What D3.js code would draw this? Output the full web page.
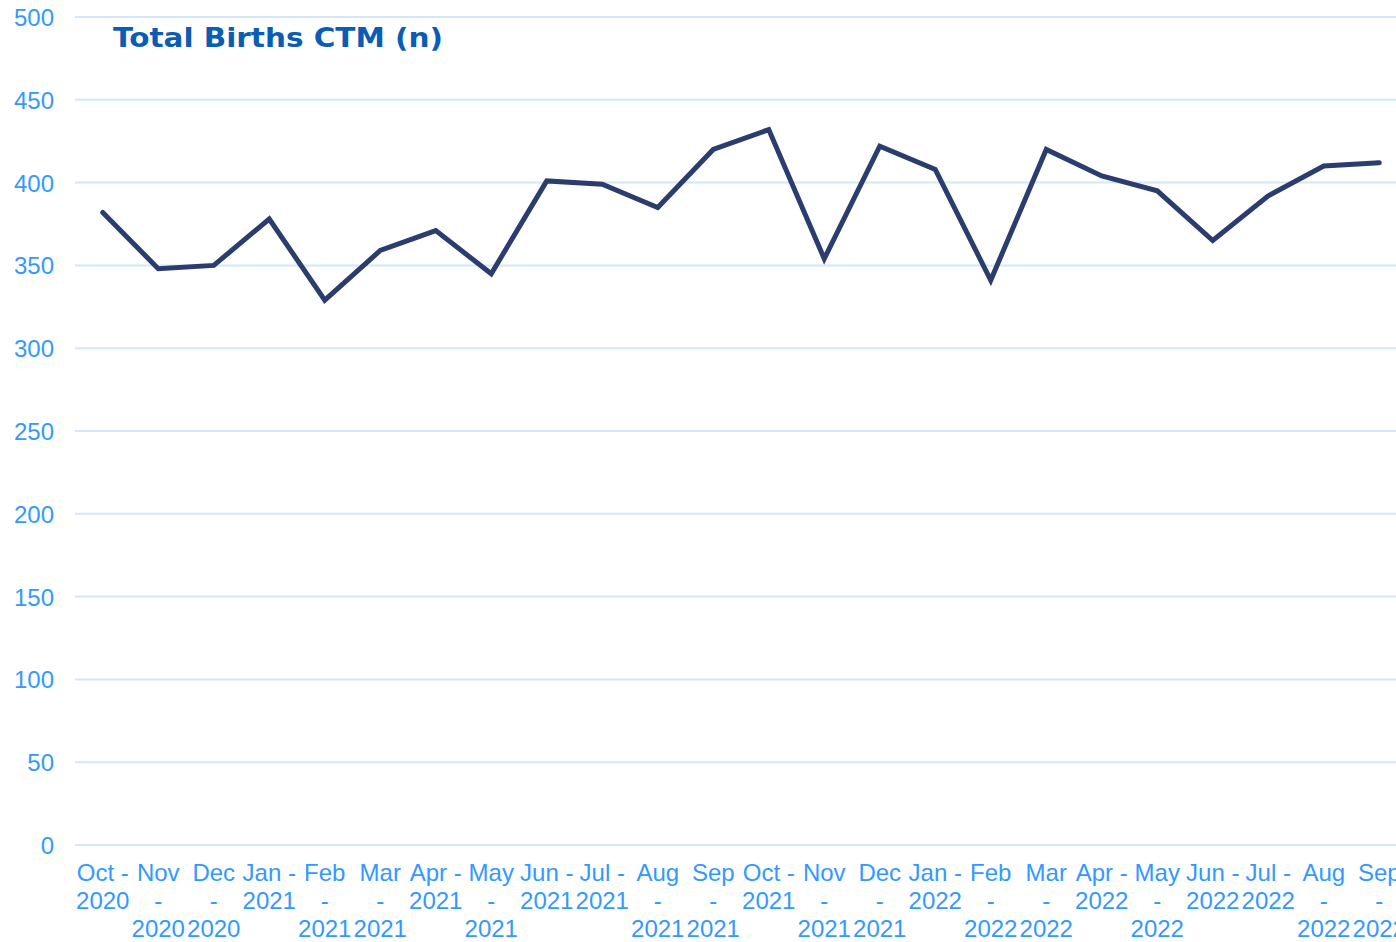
<!DOCTYPE html>
<html>
<head>
<meta charset="utf-8">
<script src="https://cdn.jsdelivr.net/npm/d3@7"></script>
<style>
  html, body { margin: 0; padding: 0; background: #fff; overflow: hidden; }
  svg { display: block; }
</style>
</head>
<body>
<svg id="chart" width="1396" height="942"></svg>
<script>
const categories = ["Oct - 2020","Nov - 2020","Dec - 2020","Jan - 2021","Feb - 2021","Mar - 2021","Apr - 2021","May - 2021","Jun - 2021","Jul - 2021","Aug - 2021","Sep - 2021","Oct - 2021","Nov - 2021","Dec - 2021","Jan - 2022","Feb - 2022","Mar - 2022","Apr - 2022","May - 2022","Jun - 2022","Jul - 2022","Aug - 2022","Sep - 2022"];
const births = [382,348,350,378,329,359,371,345,401,399,385,420,432,354,422,408,341,420,404,395,365,392,410,412];
const yTicks = [0,50,100,150,200,250,300,350,400,450,500];
const title = "Total Births CTM (n)";

(function() {
const svg = d3.select("#chart");
const plotLeft = 75, plotRight = 1407, plotTop = 17, plotBottom = 845;

const x = d3.scaleBand().domain(categories).range([plotLeft, plotRight]).padding(0);
const y = d3.scaleLinear().domain([0, 500]).range([plotBottom, plotTop]);

// gridlines
svg.append("g").selectAll("line").data(yTicks).join("line")
  .attr("x1", plotLeft).attr("x2", 1396)
  .attr("y1", d => y(d)).attr("y2", d => y(d))
  .attr("stroke", "#d3e7fb").attr("stroke-width", 2);

// y axis labels
const yAxis = d3.axisLeft(y).tickValues(yTicks).tickSize(0).tickPadding(0);
const yg = svg.append("g").attr("transform", `translate(54,0)`).call(yAxis);
yg.select(".domain").remove();
yg.selectAll("text")
  .attr("font-family", "'Liberation Sans', Arial, sans-serif")
  .attr("font-size", 24).attr("fill", "#3399ff").attr("dy", "0.35em").attr("x", 0);

// x axis labels
const xAxis = d3.axisBottom(x).tickSize(0).tickPadding(0);
const xg = svg.append("g").attr("transform", `translate(0,${plotBottom})`).call(xAxis);
xg.select(".domain").remove();
xg.selectAll("text")
  .attr("font-family", "'Liberation Sans', Arial, sans-serif")
  .attr("font-size", 24).attr("fill", "#3399ff")
  .attr("y", 0).attr("dy", null)
  .each(function(d) {
    const t = d3.select(this);
    const words = d.split(" ");
    t.text(null);
    const maxW = 54.6;
    let lines = [];
    let cur = [];
    const tmp = t.append("tspan");
    for (const w of words) {
      const test = cur.concat([w]).join(" ");
      tmp.text(test);
      if (cur.length && tmp.node().getComputedTextLength() > maxW) {
        lines.push(cur.join(" "));
        cur = [w];
      } else {
        cur.push(w);
      }
    }
    if (cur.length) lines.push(cur.join(" "));
    tmp.remove();
    lines.forEach((ln, i) => {
      t.append("tspan").attr("x", 0).attr("y", 36 + i * 28).text(ln);
    });
  });

// line
const line = d3.line()
  .x((d, i) => x(categories[i]) + x.bandwidth() / 2)
  .y(d => y(d));
svg.append("path").datum(births)
  .attr("d", line)
  .attr("fill", "none")
  .attr("stroke", "#2b3d6e")
  .attr("stroke-width", 5)
  .attr("stroke-linejoin", "miter")
  .attr("stroke-linecap", "round");

// title
svg.append("text")
  .attr("x", 113).attr("y", 47)
  .attr("font-family", "Verdana, 'DejaVu Sans', sans-serif")
  .attr("font-weight", "bold")
  .attr("font-size", 27)
  .attr("fill", "#0b5cb5")
  .attr("textLength", 330)
  .attr("lengthAdjust", "spacingAndGlyphs")
  .text(title);
})();
</script>
</body>
</html>
